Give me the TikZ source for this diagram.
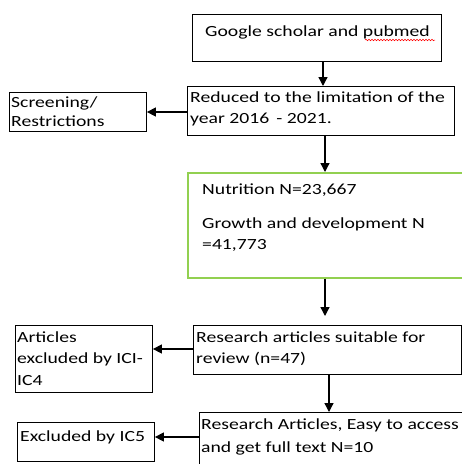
\documentclass[tikz,border=0pt]{standalone}
\usepackage{fontspec}
\setmainfont[FakeStretch=1.27]{Carlito}
\usetikzlibrary{arrows.meta,decorations.pathmorphing}
\definecolor{boxgreen}{RGB}{146,208,80}
\tikzset{
  box/.style={draw=black, line width=0.9pt, rectangle, inner sep=0pt, anchor=north west},
  gbox/.style={box, draw=boxgreen, line width=1.5pt},
  txt/.style={anchor=base west, inner sep=0pt, font=\fontsize{15.5}{19}\selectfont},
  arr/.style={line width=1.3pt, -{Triangle[length=9pt,width=9pt]}},
  wavy/.style={draw=red, line width=0.5pt, decorate, decoration={snake, amplitude=0.8pt, segment length=3pt}}
}
\begin{document}
\begin{tikzpicture}[x=1pt,y=-1pt]
\useasboundingbox (0,0) rectangle (462,464);
\clip (0,0) rectangle (462,464);
% boxes
\node[box, minimum width=249pt, minimum height=47pt] (b1) at (192,14) {};
\node[box, minimum width=267pt, minimum height=49pt] (b2) at (187,86) {};
\node[box, minimum width=137pt, minimum height=39pt] (scr) at (9,92) {};
\node[gbox, minimum width=300pt, minimum height=105pt] (g) at (187,172) {};
\node[box, minimum width=268pt, minimum height=49pt] (b4) at (193,325) {};
\node[box, minimum width=137pt, minimum height=67pt] (l4) at (15,325) {};
\node[box, minimum width=290pt, minimum height=80pt] (b5) at (199,412) {};
\node[box, minimum width=137pt, minimum height=39pt] (l5) at (17,422) {};
% texts
\node[txt] (t1) at (205,36) {Google scholar and pubmed};
\draw[wavy] (365,40) -- (435,40);
\node[txt] (t2a) at (190,102) {Reduced to the limitation of the};
\node[txt] (t2b) at (190,123) {year 2016 \,- 2021.};
\node[txt] (ts1) at (11,107) {Screening/};
\node[txt] (ts2) at (11,126) {Restrictions};
\node[txt] (tg1) at (202,194) {Nutrition N=23,667};
\node[txt] (tg2) at (202,228) {Growth and development N};
\node[txt] (tg3) at (202,249) {=41,773};
\node[txt] (t4a) at (196,342) {Research articles suitable for};
\node[txt] (t4b) at (196,363) {review (n=47)};
\node[txt] (tl4a) at (17,342) {Articles};
\node[txt] (tl4b) at (17,363) {excluded by ICI-};
\node[txt] (tl4c) at (17,385) {IC4};
\node[txt] (t5a) at (201,429) {Research Articles, Easy to access};
\node[txt] (t5b) at (201,452) {and get full text N=10};
\node[txt] (tl5) at (20,441) {Excluded by IC5};
% connectors
\coordinate (x1) at (323,0);
\coordinate (x2) at (325,0);
\coordinate (x3) at (329,0);
\coordinate (gend) at (325,316);
\coordinate (y1) at (0,112);
\coordinate (y2) at (0,349);
\coordinate (y3) at (0,437);
\draw[arr] (b1.south -| x1) -- (b2.north -| x1);
\draw[arr] (b2.west |- y1) -- (scr.east |- y1);
\draw[arr] (b2.south -| x2) -- (g.north -| x2);
\draw[arr] (g.south -| x2) -- (gend);
\draw[arr] (b4.west |- y2) -- (l4.east |- y2);
\draw[arr] (b4.south -| x3) -- (b5.north -| x3);
\draw[arr] (b5.west |- y3) -- (l5.east |- y3);
\end{tikzpicture}
\end{document}
